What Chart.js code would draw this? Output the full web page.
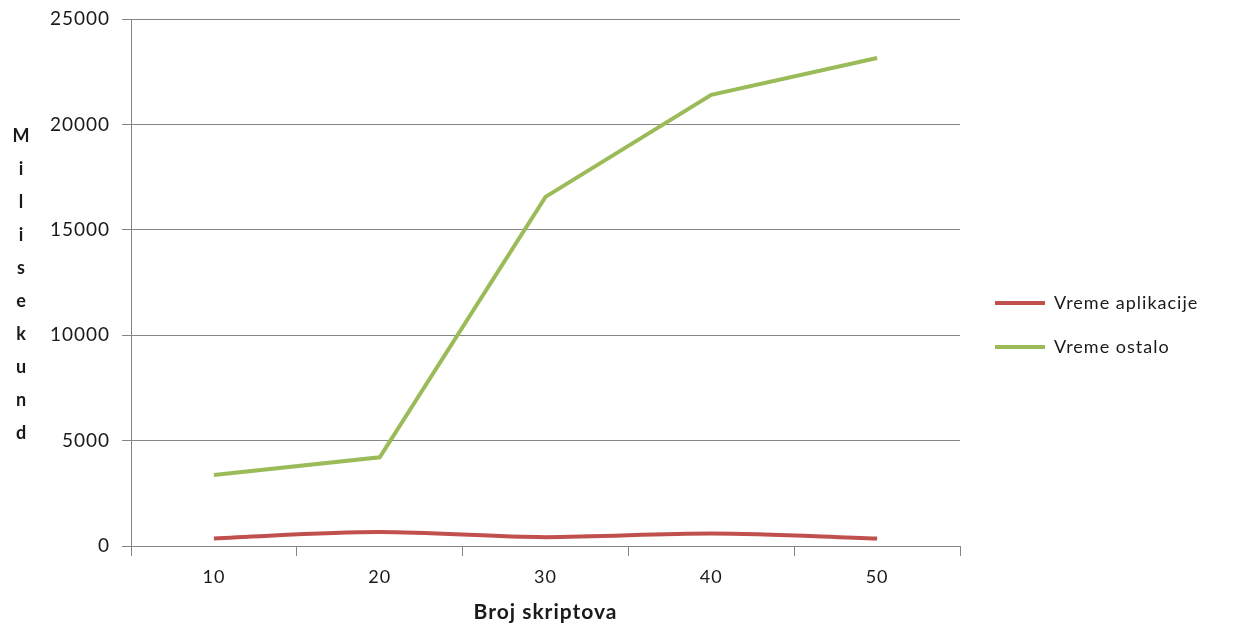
<!DOCTYPE html>
<html>
<head>
<meta charset="utf-8">
<script src="https://cdn.jsdelivr.net/npm/chart.js@4"></script>
<style>
  html, body { margin: 0; padding: 0; background: #fff; }
  #wrap { width: 1238px; height: 625px; }
</style>
</head>
<body>
<div id="wrap"><canvas id="chart"></canvas></div>
<script>
const categories = ["10", "20", "30", "40", "50"];
const vremeAplikacije = [360, 660, 420, 590, 350];
const vremeOstalo = [3370, 4210, 16560, 21400, 23150];
const yTitleLetters = ["M", "i", "l", "i", "s", "e", "k", "u", "n", "d"];

const gridColor = "#868686";
const textColor = "#1a1a1a";
const fontFamily = "Lato, 'Open Sans', sans-serif";

// reference text is rendered a bit wider, add some letter spacing
const spacingPlugin = {
    id: "spacing",
    beforeDraw(chart) {
        chart.ctx.letterSpacing = "1px";
    },
};

// vertical stacked letters for the y axis title
const yTitlePlugin = {
    id: "yTitle",
    afterDraw(chart) {
        const ctx = chart.ctx;
        const area = chart.chartArea;
        const mid = (area.top + area.bottom) / 2 + 2;
        const step = 33;
        ctx.save();
        ctx.letterSpacing = "0px";
        ctx.font = "bold 18px " + fontFamily;
        ctx.fillStyle = textColor;
        ctx.textAlign = "center";
        ctx.textBaseline = "middle";
        yTitleLetters.forEach(function (ch, i) {
            const y = mid + (i - (yTitleLetters.length - 1) / 2) * step;
            ctx.fillText(ch, 21, y);
        });
        ctx.restore();
    },
};

// fixed legend column width, then nudge it to where the reference has it
const legendPlace = {
    id: "legendPlace",
    beforeInit(chart) {
        const legend = chart.legend;
        const fit = legend.fit;
        legend.fit = function () {
            fit.call(this);
            this.width = 278;
            this.minSize = { width: this.width, height: this.height };
        };
    },
    afterLayout(chart) {
        const legend = chart.legend;
        legend.left += 9;
        legend.right += 9;
        legend.top += 3;
        legend.bottom += 3;
    },
};

new Chart(document.getElementById("chart"), {
    type: "line",
    data: {
        labels: categories,
        datasets: [
            {
                label: "Vreme aplikacije",
                data: vremeAplikacije,
                borderColor: "#C0504D",
                backgroundColor: "#C0504D",
                borderWidth: 4,
                pointRadius: 0,
                tension: 0.4,
                cubicInterpolationMode: "monotone",
            },
            {
                label: "Vreme ostalo",
                data: vremeOstalo,
                borderColor: "#9BBB59",
                backgroundColor: "#9BBB59",
                borderWidth: 4,
                pointRadius: 0,
                tension: 0,
            },
        ],
    },
    options: {
        responsive: true,
        maintainAspectRatio: false,
        animation: false,
        layout: { padding: { top: 19, left: 0, right: 0, bottom: 0 } },
        plugins: {
            legend: {
                position: "right",
                align: "center",
                labels: {
                    boxWidth: 50,
                    boxHeight: 4,
                    padding: 26,
                    color: textColor,
                    font: { family: fontFamily, size: 18 },
                    generateLabels(chart) {
                        return Chart.defaults.plugins.legend.labels
                            .generateLabels(chart)
                            .map((l) => ({ ...l, lineWidth: 0 }));
                    },
                },
            },
            tooltip: { enabled: false },
        },
        scales: {
            x: {
                offset: true,
                afterFit(scale) {
                    scale.height = 79;
                },
                grid: {
                    offset: true,
                    drawOnChartArea: false,
                    drawTicks: true,
                    tickLength: 10,
                    color: gridColor,
                },
                border: { color: gridColor },
                ticks: {
                    color: textColor,
                    padding: 10,
                    font: { family: fontFamily, size: 18 },
                },
                title: {
                    display: true,
                    text: "Broj skriptova",
                    color: textColor,
                    font: { family: fontFamily, size: 21, weight: "bold" },
                    padding: { top: 10, bottom: 0 },
                },
            },
            y: {
                min: 0,
                max: 25000,
                afterFit(scale) {
                    scale.width = 131;
                    scale.paddingTop = 0;
                    scale.paddingBottom = 0;
                },
                grid: {
                    color: gridColor,
                    tickLength: 9,
                },
                border: { color: gridColor },
                ticks: {
                    stepSize: 5000,
                    color: textColor,
                    padding: 12,
                    font: { family: fontFamily, size: 19 },
                    callback: (value) => String(value),
                },
            },
        },
    },
    plugins: [spacingPlugin, yTitlePlugin, legendPlace],
});
</script>
</body>
</html>
